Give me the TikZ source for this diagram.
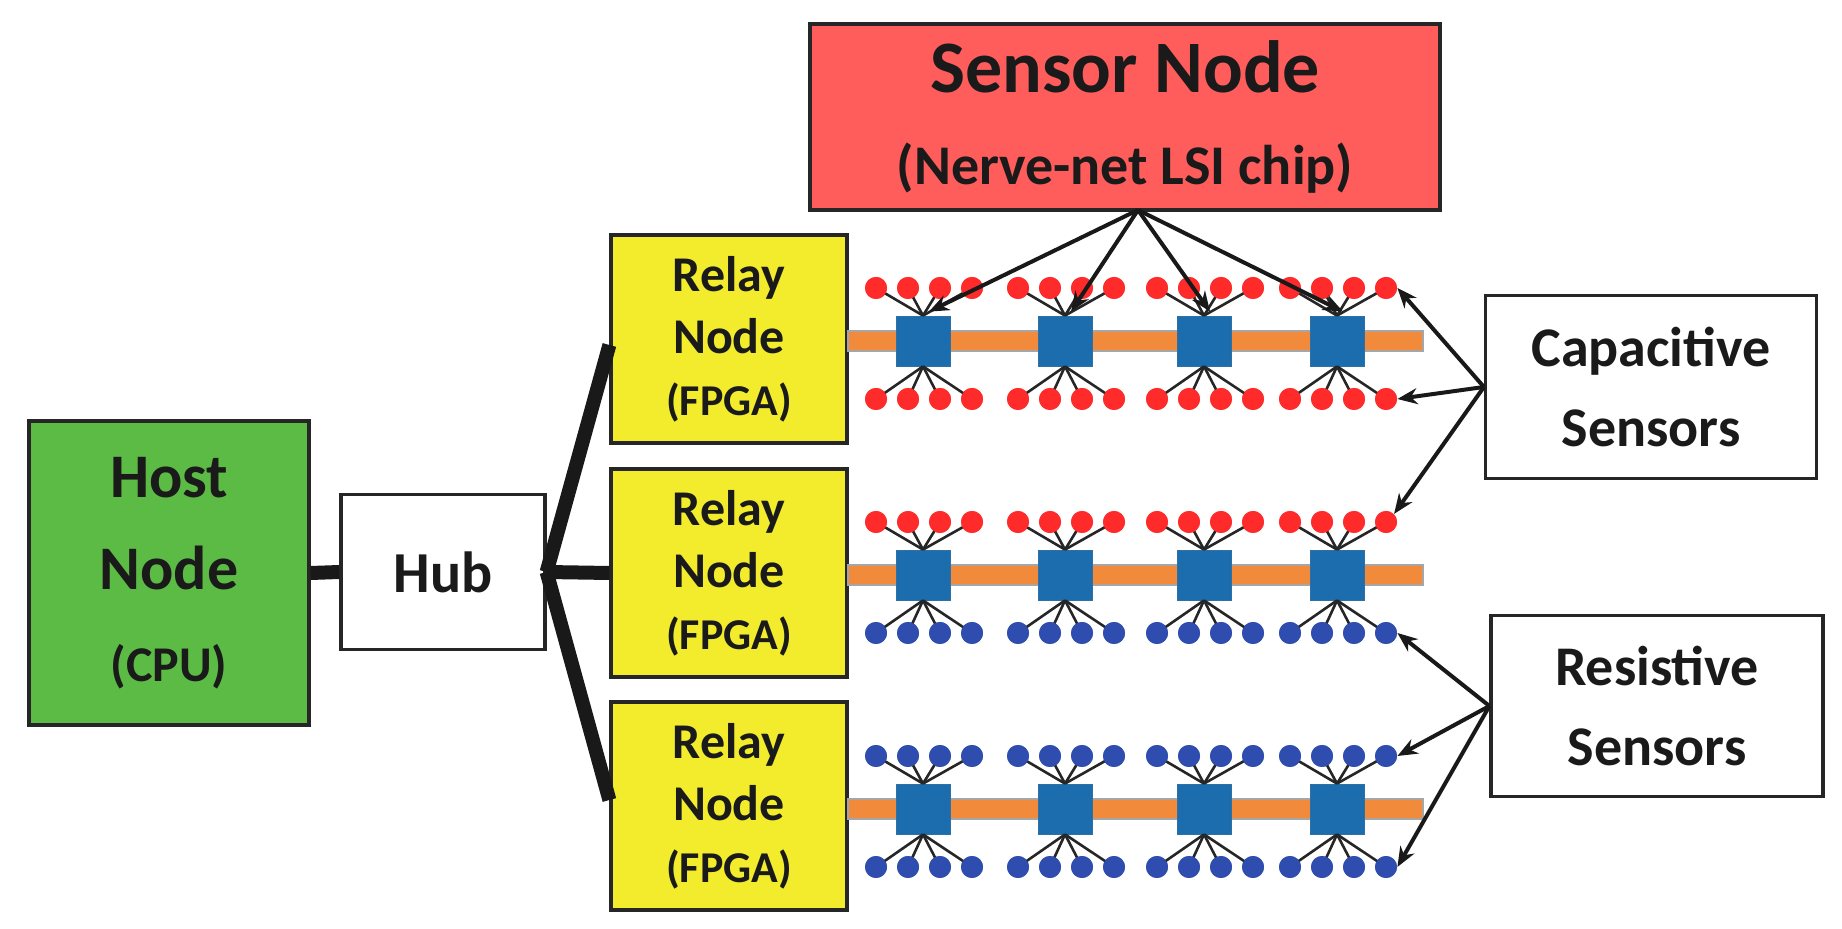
\documentclass[tikz,border=0pt]{standalone}
\usepackage{fontspec}
\setmainfont{Carlito}
\usetikzlibrary{arrows.meta}
\definecolor{hostg}{HTML}{5CBB45}
\definecolor{relayy}{HTML}{F2EC2C}
\definecolor{sensr}{HTML}{FF5C5C}
\definecolor{chipb}{HTML}{1C6DAE}
\definecolor{barorange}{HTML}{F28A3C}
\definecolor{capred}{HTML}{FF2B2B}
\definecolor{resblue}{HTML}{2F4DAE}
\definecolor{txt}{HTML}{1A1A1A}
\begin{document}
\begin{tikzpicture}[x=0.5pt,y=-0.5pt,
  box/.style={draw=black!85,line width=1.6pt,align=center,text=txt,inner sep=0pt},
  link/.style={line width=7pt,draw=black!90},
  chip/.style={fill=chipb,draw=chipb!80!gray,minimum width=27pt,minimum height=25pt,inner sep=0pt},
  dot/.style={circle,inner sep=0pt,minimum size=11pt},
  wire/.style={line width=1.3pt,draw=black!85},
  arr/.style={line width=2pt,draw=black!90,-{Stealth[length=10pt,width=8pt]}}]
\useasboundingbox (0,0) rectangle (1842,929);
\node[box,fill=hostg,minimum width=140pt,minimum height=152pt,font=\fontsize{31}{46}\selectfont\bfseries] (host) at (169,573)
  {Host\\Node\\{\fontsize{25}{30}\selectfont (CPU)}};
\node[box,fill=white,minimum width=102pt,minimum height=77.5pt,font=\fontsize{29}{34}\selectfont\bfseries] (hub) at (443,572)
  {Hub};
\foreach \i/\y in {1/339,2/573,3/806}{
  \node[box,fill=relayy,minimum width=118pt,minimum height=104pt,font=\fontsize{25}{31}\selectfont\bfseries] (r\i) at (729,\y)
    {Relay\\Node\\{\fontsize{22}{26}\selectfont (FPGA)}};
}
\node[box,fill=sensr,minimum width=315pt,minimum height=93pt,font=\fontsize{37}{46}\selectfont\bfseries] (sn) at (1125,117)
  {Sensor Node\\{\fontsize{28}{32}\selectfont (Nerve-net LSI chip)}};
\node[box,fill=white,minimum width=165.5pt,minimum height=91.5pt,font=\fontsize{28}{40}\selectfont\bfseries] (cap) at (1651,387)
  {Capacitive\\Sensors};
\node[box,fill=white,minimum width=166pt,minimum height=90.5pt,font=\fontsize{28}{40}\selectfont\bfseries] (res) at (1657,706)
  {Resistive\\Sensors};
% links
\draw[link] (host.east) -- (hub.west);
\draw[link] (hub.east) -- (r2.west);
\draw[link] (hub.east) -- ([yshift=-3pt]r1.west);
\draw[link] (hub.east) -- ([yshift=3pt]r3.west);
% sensor rows
\foreach \r/\y/\tc/\bc in {1/341/capred/capred,2/575/capred/resblue,3/809/resblue/resblue}{
  \fill[barorange,draw=gray!70,line width=0.8pt] (848,\y-10) rectangle (1423,\y+10);
  \foreach \c/\x in {1/923,2/1065,3/1204,4/1337}{
    \node[chip] (c\r\c) at (\x,\y) {};
    \foreach \k/\dx in {1/-47,2/-15,3/17,4/49}{
      \node[dot,fill=\tc] (t\r\c\k) at (\x+\dx,\y-53) {};
      \node[dot,fill=\bc] (b\r\c\k) at (\x+\dx,\y+58) {};
      \draw[wire] (c\r\c.north) -- (t\r\c\k.center);
      \draw[wire] (c\r\c.south) -- (b\r\c\k.center);
    }
  }
}
% redraw dots on top of wires
\foreach \r/\y/\tc/\bc in {1/341/capred/capred,2/575/capred/resblue,3/809/resblue/resblue}{
  \foreach \c/\x in {1/923,2/1065,3/1204,4/1337}{
    \foreach \k/\dx in {1/-47,2/-15,3/17,4/49}{
      \node[dot,fill=\tc] at (\x+\dx,\y-53) {};
      \node[dot,fill=\bc] at (\x+\dx,\y+58) {};
    }
  }
}
\coordinate (snb) at (1138,210);
\foreach \c in {1,2,3,4}{\draw[arr] (snb) -- ([xshift=3pt,yshift=2pt]c1\c.north);}
\coordinate (capw) at (cap.west);
\draw[arr] (capw) -- (t144.east);
\draw[arr] (capw) -- (b144.east);
\draw[arr] (capw) -- (t244.north east);
\coordinate (resw) at (res.west);
\draw[arr] (resw) -- (b244.east);
\draw[arr] (resw) -- (t344.east);
\draw[arr] (resw) -- (b344.east);
\end{tikzpicture}
\end{document}
